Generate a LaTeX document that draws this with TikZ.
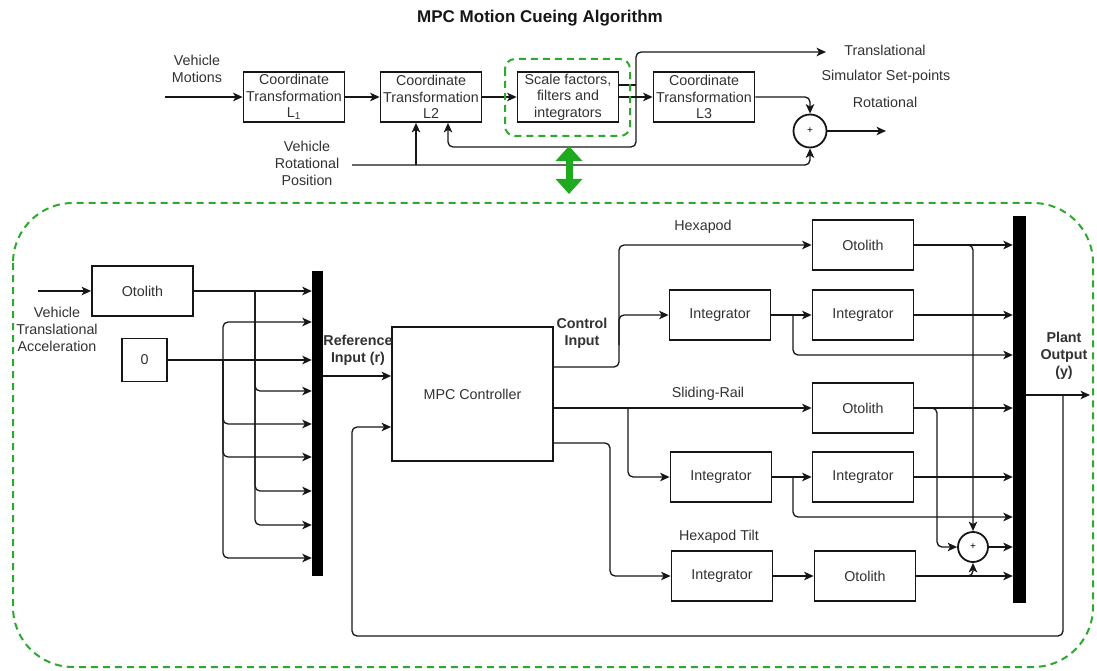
\documentclass[tikz,border=0pt]{standalone}
\usepackage{fontspec}
\setmainfont{Liberation Sans}
\usetikzlibrary{arrows.meta,calc}
\definecolor{dgreen}{RGB}{46,168,46}
\definecolor{agreen}{RGB}{30,170,30}
\definecolor{ink}{RGB}{22,22,22}
\definecolor{txt}{RGB}{50,50,50}
\tikzset{
  blk/.style={draw=ink, line width=1.8pt, minimum width=101pt, minimum height=50pt,
    inner sep=0pt, align=center, font=\fontsize{14.3}{16.5}\selectfont, text=txt},
  bar/.style={fill=black, draw=none, inner sep=0pt},
  conn/.style={draw=ink, line width=1.3pt, rounded corners=5pt},
  arr/.style={conn, -{Stealth[length=9.5pt,width=8.5pt,inset=2.5pt]}},
  lbl/.style={font=\fontsize{14.3}{17}\selectfont, align=center, text=txt, inner sep=1pt},
  blbl/.style={lbl, font=\fontsize{14.3}{17}\selectfont\bfseries},
  sumnode/.style={draw=ink, circle, line width=1.8pt, minimum size=33pt, inner sep=0pt,
    font=\fontsize{10}{10}\selectfont},
  gbox/.style={draw=dgreen, line width=2pt, dash pattern=on 7pt off 5pt},
}
\begin{document}
\begin{tikzpicture}[x=1pt,y=-1pt]
\useasboundingbox (0,0) rectangle (1097,671);
\fill[white] (0,0) rectangle (1097,671);

\node[font=\fontsize{17}{17}\selectfont\bfseries, text=ink] (title) at (540,18) {MPC Motion Cueing Algorithm};

% ---------- washout chain ----------
\node[blk] (L1) at (294,97) {Coordinate\\Transformation\\L\textsubscript{1}};
\node[blk] (L2) at (431,97) {Coordinate\\Transformation\\L2};
\node[blk] (SF) at (568,97) {Scale factors,\\filters and\\integrators};
\node[blk] (L3) at (704,97) {Coordinate\\Transformation\\L3};
\node[sumnode] (S1) at (810,131) {+};

\node[lbl] (vm) at (197,69) {Vehicle\\Motions};
\node[lbl] (vrp) at (307,163) {Vehicle\\Rotational\\Position};
\node[lbl] (tr) at (885,50) {Translational};
\node[lbl] (ssp) at (886,77) {Simulator Set-points};
\node[lbl] (rot) at (885,102) {Rotational};

\coordinate (vmin) at (165,97);
\draw[arr] (vmin) -- (L1.west);
\draw[arr] (L1) -- (L2);
\draw[arr] (L2) -- (SF);
\draw[arr] (SF) -- (L3);
\coordinate (sfb) at (636,85);
\draw[conn] ([yshift=12pt]SF.east) -- (sfb);
\coordinate (trend) at (826,52);
\draw[arr] (sfb) |- (trend);
\coordinate (fbturn) at (636,147);
\coordinate (L2fb) at ([xshift=17pt]L2.south);
\draw[arr] (sfb) -- (fbturn) -| (L2fb);
\draw[arr] (L3.east) -| (S1.north);
\coordinate (rotend) at (886,131);
\draw[arr] (S1.east) -- (rotend);
\coordinate (vrpout) at (352,165);
\draw[arr] (vrpout) -| (S1.south);
\coordinate (L2rp) at ([xshift=-15pt]L2.south);
\draw[arr] (L2rp |- vrpout) -- (L2rp);

\draw[gbox, rounded corners=10pt] (505,59) rectangle (630,136);
\coordinate (ga) at (569,146);
\coordinate (gb) at (569,194);
\draw[agreen, line width=7pt, {Triangle[length=15pt,width=26pt]}-{Triangle[length=15pt,width=26pt]}] (ga) -- (gb);

% ---------- MPC loop ----------
\draw[gbox, rounded corners=60pt] (13,203) rectangle (1093,667);

\node[lbl] (vta) at (57,329) {Vehicle\\Translational\\Acceleration};
\node[blk] (O0) at (142.5,291) {Otolith};
\node[blk, minimum width=45pt, minimum height=43pt] (Z) at (144.5,360) {0};
\node[bar, minimum width=11pt, minimum height=305pt] (B1) at (317.5,423.5) {};

\coordinate (vtain) at (38,291);
\draw[arr] (vtain) -- (O0.west);
\draw[arr] (O0.east) -- (B1.west |- O0.east);
\coordinate (ja) at (255,291);
\foreach \yy in {391,491,525} \draw[arr] (ja) |- (B1.west |- 0,\yy);
\draw[arr] (Z.east) -- (B1.west |- Z.east);
\coordinate (jb) at (223,360);
\foreach \yy in {322,424,457,558} \draw[arr] (jb) |- (B1.west |- 0,\yy);

\node[blk, minimum width=161pt, minimum height=134pt] (MPC) at (472.5,394) {MPC Controller};
\node[blbl] (ref) at (358,350) {Reference\\Input (r)};
\draw[arr] (B1.east |- 0,376) -- (MPC.west |- 0,376);

\node[blk] (O1) at (863,245) {Otolith};
\node[blk] (I1) at (720,315) {Integrator};
\node[blk] (I2) at (863,315) {Integrator};
\node[blk] (O2) at (863,408) {Otolith};
\node[blk] (I3) at (721,477) {Integrator};
\node[blk] (I4) at (863,477) {Integrator};
\node[blk] (I5) at (722,576) {Integrator};
\node[blk] (O3) at (865,576) {Otolith};
\node[bar, minimum width=13pt, minimum height=387pt] (B2) at (1019.5,409.5) {};
\node[sumnode, minimum size=30pt] (S2) at (973,547) {+};

\node[lbl] (hx) at (703,227) {Hexapod};
\node[lbl] (sr) at (708,394) {Sliding-Rail};
\node[lbl] (ht) at (719,537) {Hexapod Tilt};
\node[blbl] (ci) at (582,333) {Control\\Input};
\node[blbl] (po) at (1064,356) {Plant\\Output\\(y)};

% controller outputs
\draw[arr] (MPC.east |- 0,367) -- (619,367) -- (619,245) -- (O1.west);
\coordinate (jc) at (619,345);
\draw[arr] (jc) |- (I1.west);
\draw[arr] (MPC.east |- O2.west) -- (O2.west);
\coordinate (js) at (628,408);
\draw[arr] (js) |- (I3.west);
\draw[arr] (MPC.east |- 0,443) -- (610,443) -- (610,576) -- (I5.west);

% plant blocks to output bus
\draw[arr] (I1) -- (I2);
\coordinate (j1) at (793,315);
\draw[arr] (j1) |- (B2.west |- 0,355);
\draw[arr] (I2.east) -- (B2.west |- I2.east);
\draw[arr] (O1.east) -- (B2.west |- O1.east);
\draw[arr] (O1.east) -| (S2.north);
\draw[arr] (O2.east) -- (B2.west |- O2.east);
\draw[arr] (O2.east) -- (937,408) -- (937,547) -- (S2.west);
\draw[arr] (I3) -- (I4);
\coordinate (j3) at (793,477);
\draw[arr] (j3) |- (B2.west |- 0,517);
\draw[arr] (I4.east) -- (B2.west |- I4.east);
\draw[arr] (I5) -- (O3);
\draw[arr] (O3.east) -- (B2.west |- O3.east);
\draw[arr] (O3.east) -| (S2.south);
\draw[arr] (S2.east) -- (B2.west |- S2.east);

% plant output and feedback
\coordinate (yout) at (1090,395);
\draw[arr] (B2.east |- yout) -- (yout);
\coordinate (jy) at (1063,395);
\coordinate (fbc) at (352,636);
\draw[arr] (jy) |- (fbc) |- (MPC.west |- 0,427);
\end{tikzpicture}
\end{document}
